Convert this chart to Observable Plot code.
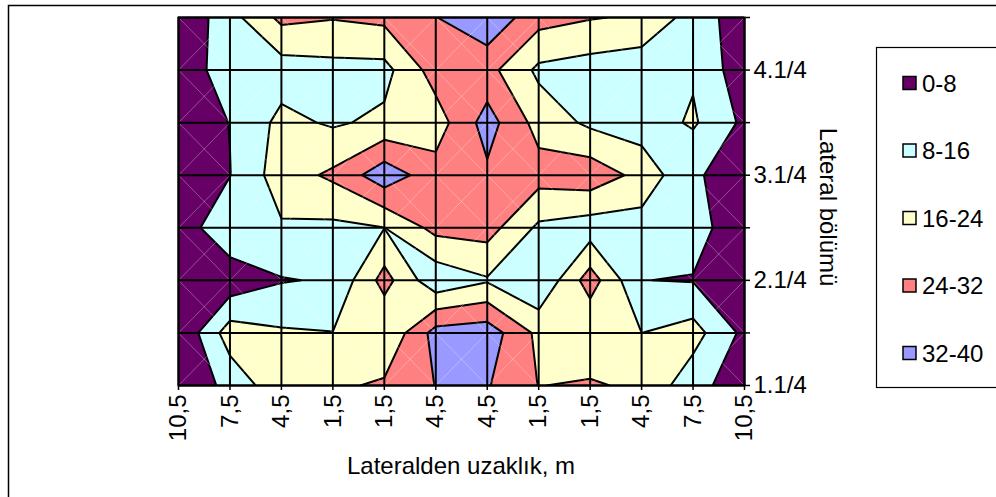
<!DOCTYPE html>
<html><head><meta charset="utf-8">
<script src="https://cdn.jsdelivr.net/npm/d3@7"></script>
<script src="https://cdn.jsdelivr.net/npm/@observablehq/plot@0.6"></script>
<style>
body{margin:0;background:#fff;}
#chart{position:relative;width:996px;height:497px;overflow:hidden;background:#fff;}
</style></head><body><div id="chart"></div>
<script>
// Categories / tick labels
const xLabels = ["10,5","7,5","4,5","1,5","1,5","4,5","4,5","1,5","1,5","4,5","7,5","10,5"];
const yLabels = ["1.1/4","","2.1/4","","3.1/4","","4.1/4",""];
const xTitle = "Lateralden uzaklık, m";
const yTitle = "Lateral bölümü";
// Band legend
const bands = ["0-8","8-16","16-24","24-32","32-40"];
const thresholds = [0, 8, 16, 24, 32];
const colors = ["#660066","#CCFFFF","#FFFFCC","#FF8080","#9999FF"];
// Values, rows from bottom (1.1/4) to top
const row0 = [0.5, 10.7, 21.3, 22.5, 25.3, 32.2, 32.6, 23.8, 25.1, 22.2, 11.2, 2.8];
const row1 = [0.5, 20, 17, 16.2, 16.5, 35, 36.5, 22, 16.5, 16, 19.2, 6];
const row2 = [1, 2.7, 7.5, 8.8, 27, 10.2, 15.2, 8.4, 28, 8.1, 7.6, 3];
const row3 = [3, 14.7, 15.1, 14.2, 15.9, 26.5, 27.4, 14.5, 11.8, 12.5, 11, 3.1];
const row4 = [2, 7.8, 20.2, 25.5, 37, 27.2, 30.5, 27.2, 29, 21.5, 8.7, 5.4];
const row5 = [2.5, 8.2, 18.2, 15, 17.7, 20, 35.4, 21, 14.4, 11.7, 17.1, 6.3];
const row6 = [4.4, 11, 12, 13.3, 13.4, 27.7, 26.75, 14.3, 12.25, 10.5, 15, 3];
const row7 = [1, 13, 26, 24.5, 26, 31.8, 38, 27, 24.5, 23, 12.5, 3.5];

const rowsData = [row0, row1, row2, row3, row4, row5, row6, row7];
const grid = rowsData.flat();
const nx = xLabels.length, ny = yLabels.length;
const cols = d3.range(nx), rows = d3.range(ny);
const cells = d3.range(nx - 1).flatMap(i => d3.range(ny - 1).map(j => ({i, j})));

const W = 996, H = 497;
const FONT = "'Liberation Sans', Arial, sans-serif";
const FS = 24;

const plot = Plot.plot({
  width: W, height: H,
  marginLeft: 178, marginRight: W - 744, marginTop: 17, marginBottom: H - 385,
  style: {fontFamily: FONT, fontSize: FS + "px", background: "white", color: "black", overflow: "visible"},
  x: {domain: [0, nx - 1], axis: null},
  y: {domain: [0, ny - 1], axis: null},
  color: {type: "threshold", domain: thresholds.slice(1), range: colors},
  marks: [
    Plot.frame({fill: colors[0], stroke: null}),
    Plot.contour(grid, {
      width: nx, height: ny, x1: -0.5, x2: nx - 0.5, y1: -0.5, y2: ny - 0.5,
      fill: Plot.identity, thresholds, stroke: "black", strokeWidth: 2, clip: true
    }),
    Plot.link(cells, {x1: d => d.i, y1: d => d.j, x2: d => d.i + 1, y2: d => d.j + 1, stroke: "white", strokeOpacity: 0.3, strokeWidth: 1}),
    Plot.link(cells, {x1: d => d.i + 1, y1: d => d.j, x2: d => d.i, y2: d => d.j + 1, stroke: "white", strokeOpacity: 0.3, strokeWidth: 1}),
    Plot.ruleX(cols, {stroke: "black", strokeWidth: 2}),
    Plot.ruleY(rows, {stroke: "black", strokeWidth: 2}),
    Plot.axisX(cols, {tickSize: 5, tickRotate: -90, tickFormat: i => xLabels[i], label: null, fontSize: FS, strokeWidth: 1.5}),
    Plot.axisY(rows, {anchor: "right", tickSize: 5, tickFormat: i => yLabels[i], label: null, fontSize: FS, strokeWidth: 1.5}),
    Plot.frame({stroke: "black", strokeWidth: 2})
  ]
});
document.getElementById("chart").appendChild(plot);

const svg = d3.select(plot);
// outer chart border (cropped at right and bottom)
svg.append("path").attr("d", "M8.5,497 V5.5 H996").attr("fill", "none").attr("stroke", "black").attr("stroke-width", 1.5);
// axis titles
svg.append("text").attr("x", 461).attr("y", 474).attr("text-anchor", "middle")
  .style("font-family", FONT).style("font-size", FS + "px").attr("fill", "black").text(xTitle);
svg.append("text").attr("transform", "translate(820,207) rotate(90)").attr("text-anchor", "middle")
  .style("font-family", FONT).style("font-size", FS + "px").attr("fill", "black").text(yTitle);
// legend
const lg = svg.append("g");
lg.append("rect").attr("x", 876.5).attr("y", 47.5).attr("width", 140).attr("height", 340)
  .attr("fill", "white").attr("stroke", "black").attr("stroke-width", 1.2);
bands.forEach((b, k) => {
  const cy = 83 + k * 67.5;
  lg.append("rect").attr("x", 903).attr("y", cy - 6.5).attr("width", 13).attr("height", 13)
    .attr("fill", colors[k]).attr("stroke", "black").attr("stroke-width", 1.5);
  lg.append("text").attr("x", 922).attr("y", cy).attr("dy", "0.36em").attr("text-anchor", "start")
    .style("font-family", FONT).style("font-size", FS + "px").attr("fill", "black").text(b);
});
</script></body></html>
